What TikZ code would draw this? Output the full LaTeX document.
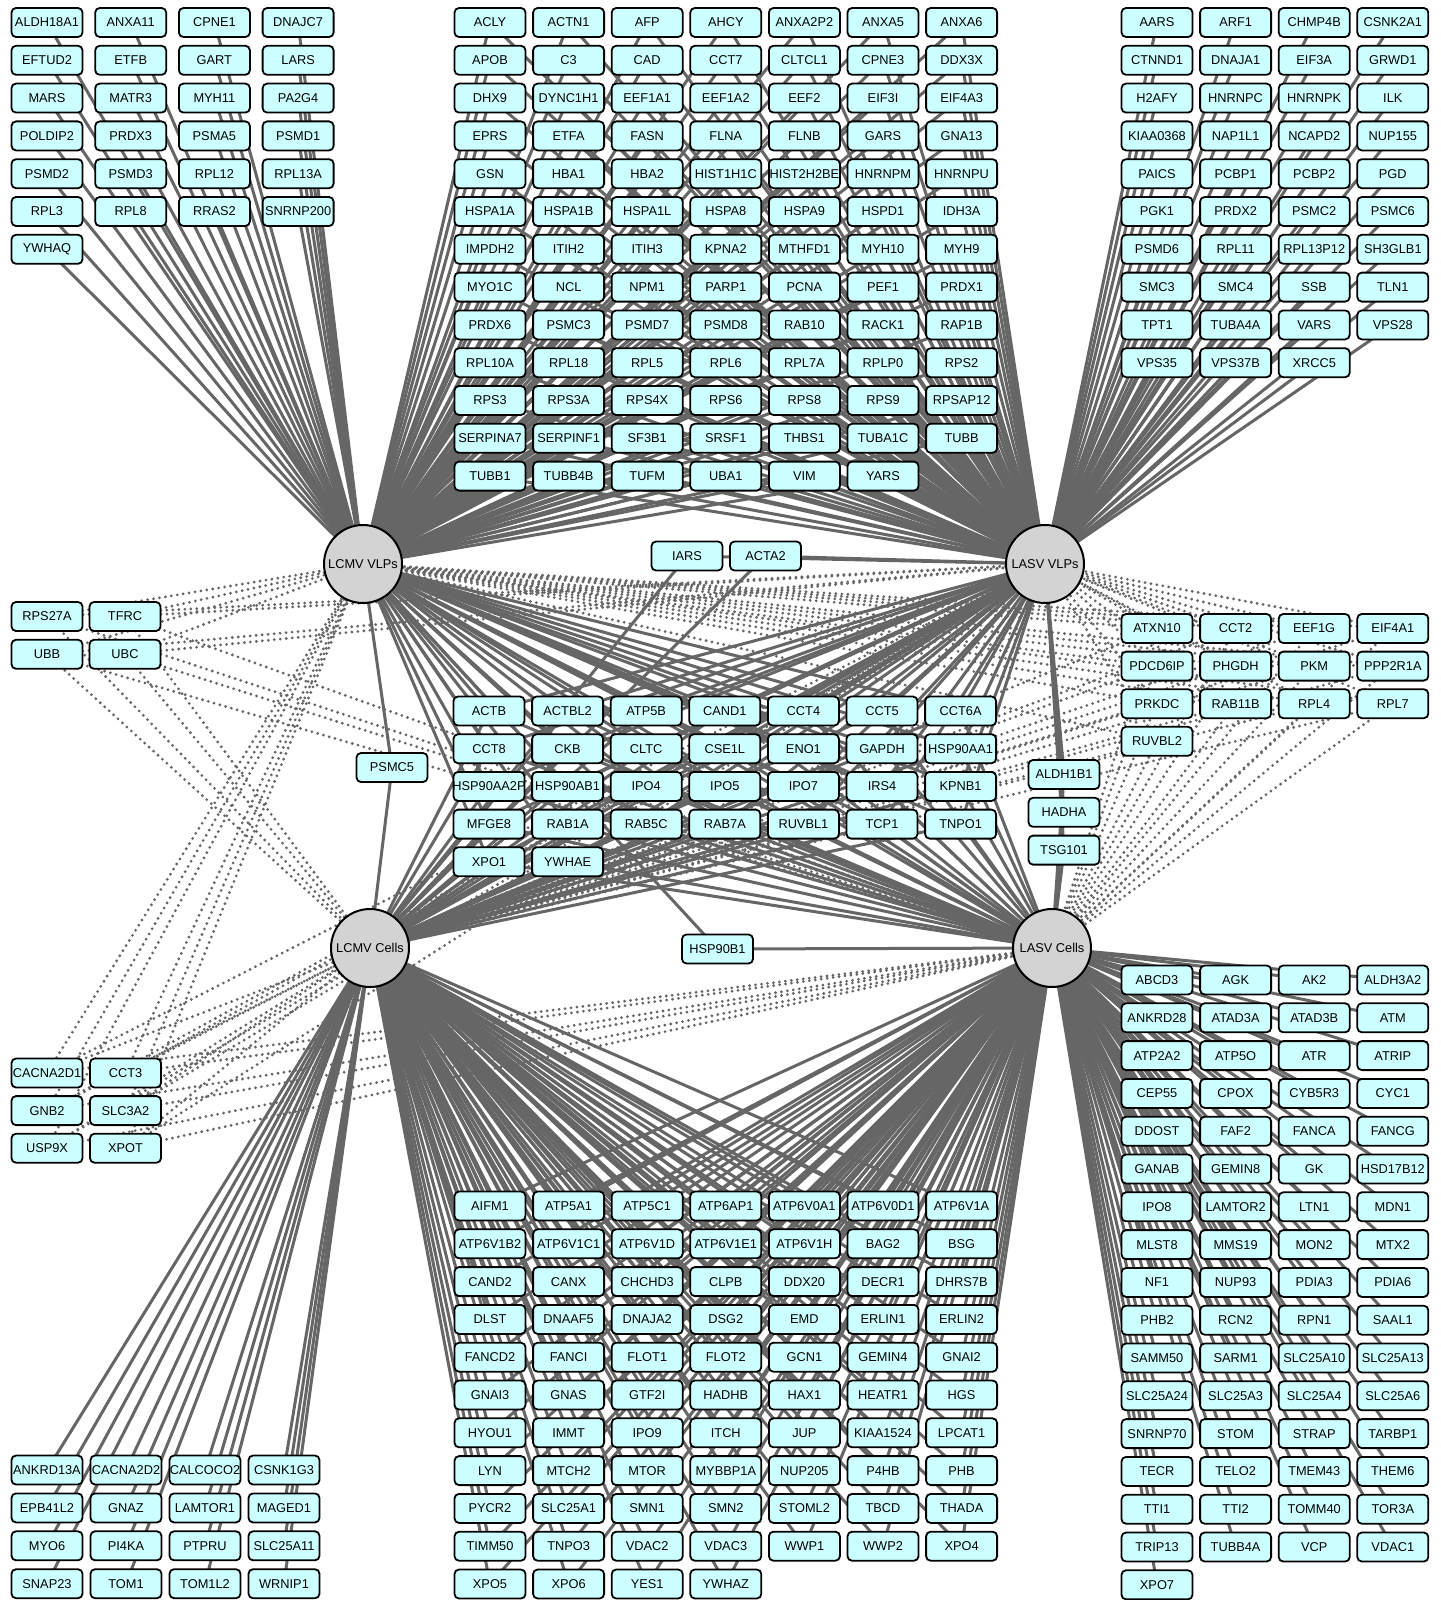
\documentclass[tikz,border=0pt]{standalone}
\usepackage{fontspec}
\setmainfont{Liberation Sans}
\pgfdeclarelayer{background}
\pgfsetlayers{background,main}
\definecolor{genefill}{RGB}{204,255,255}
\definecolor{hubfill}{RGB}{211,211,211}
\definecolor{edgegray}{RGB}{102,102,102}
\tikzset{
  gene/.style={draw=black, line width=1.8pt, fill=genefill, rounded corners=4.5pt,
    minimum width=71pt, minimum height=29pt, inner xsep=-4pt, inner ysep=0pt,
    font=\fontsize{12.8}{14}\selectfont},
  hub/.style={circle, draw=black, line width=2pt, fill=hubfill, minimum size=78pt,
    inner sep=0pt, font=\fontsize{12.8}{14}\selectfont},
  soliden/.style={draw=edgegray, line width=3pt},
  dotten/.style={draw=edgegray, line width=3.1pt, line cap=round, dash pattern=on 0pt off 6pt},
}
\newcommand\genegrid[6]{%
  \edef\mygenelist{#6}%
  \foreach \t [count=\i from 0] in \mygenelist {%
    \pgfmathtruncatemacro\mycol{mod(\i,#5)}%
    \pgfmathtruncatemacro\myrow{div(\i,#5)}%
    \node[gene] (n-\t) at ({#1+\mycol*#2},{#3+\myrow*#4}) {\t};
  }%
}
\newcommand\geneedges[3]{%
  \edef\mygenelist{#1}%
  \foreach \t in \mygenelist {\foreach \h in {#2} {\draw[#3] (n-\t.center) -- (\h.center);}}%
}
\def\TL{ALDH18A1,ANXA11,CPNE1,DNAJC7,EFTUD2,ETFB,GART,LARS,MARS,MATR3,MYH11,PA2G4,POLDIP2,PRDX3,PSMA5,PSMD1,PSMD2,PSMD3,RPL12,RPL13A,RPL3,RPL8,RRAS2,SNRNP200,YWHAQ}
\def\TM{ACLY,ACTN1,AFP,AHCY,ANXA2P2,ANXA5,ANXA6,APOB,C3,CAD,CCT7,CLTCL1,CPNE3,DDX3X,DHX9,DYNC1H1,EEF1A1,EEF1A2,EEF2,EIF3I,EIF4A3,EPRS,ETFA,FASN,FLNA,FLNB,GARS,GNA13,GSN,HBA1,HBA2,HIST1H1C,HIST2H2BE,HNRNPM,HNRNPU,HSPA1A,HSPA1B,HSPA1L,HSPA8,HSPA9,HSPD1,IDH3A,IMPDH2,ITIH2,ITIH3,KPNA2,MTHFD1,MYH10,MYH9,MYO1C,NCL,NPM1,PARP1,PCNA,PEF1,PRDX1,PRDX6,PSMC3,PSMD7,PSMD8,RAB10,RACK1,RAP1B,RPL10A,RPL18,RPL5,RPL6,RPL7A,RPLP0,RPS2,RPS3,RPS3A,RPS4X,RPS6,RPS8,RPS9,RPSAP12,SERPINA7,SERPINF1,SF3B1,SRSF1,THBS1,TUBA1C,TUBB,TUBB1,TUBB4B,TUFM,UBA1,VIM,YARS}
\def\TR{AARS,ARF1,CHMP4B,CSNK2A1,CTNND1,DNAJA1,EIF3A,GRWD1,H2AFY,HNRNPC,HNRNPK,ILK,KIAA0368,NAP1L1,NCAPD2,NUP155,PAICS,PCBP1,PCBP2,PGD,PGK1,PRDX2,PSMC2,PSMC6,PSMD6,RPL11,RPL13P12,SH3GLB1,SMC3,SMC4,SSB,TLN1,TPT1,TUBA4A,VARS,VPS28,VPS35,VPS37B,XRCC5}
\def\CM{ACTB,ACTBL2,ATP5B,CAND1,CCT4,CCT5,CCT6A,CCT8,CKB,CLTC,CSE1L,ENO1,GAPDH,HSP90AA1,HSP90AA2P,HSP90AB1,IPO4,IPO5,IPO7,IRS4,KPNB1,MFGE8,RAB1A,RAB5C,RAB7A,RUVBL1,TCP1,TNPO1,XPO1,YWHAE}
\def\BL{ANKRD13A,CACNA2D2,CALCOCO2,CSNK1G3,EPB41L2,GNAZ,LAMTOR1,MAGED1,MYO6,PI4KA,PTPRU,SLC25A11,SNAP23,TOM1,TOM1L2,WRNIP1}
\def\BM{AIFM1,ATP5A1,ATP5C1,ATP6AP1,ATP6V0A1,ATP6V0D1,ATP6V1A,ATP6V1B2,ATP6V1C1,ATP6V1D,ATP6V1E1,ATP6V1H,BAG2,BSG,CAND2,CANX,CHCHD3,CLPB,DDX20,DECR1,DHRS7B,DLST,DNAAF5,DNAJA2,DSG2,EMD,ERLIN1,ERLIN2,FANCD2,FANCI,FLOT1,FLOT2,GCN1,GEMIN4,GNAI2,GNAI3,GNAS,GTF2I,HADHB,HAX1,HEATR1,HGS,HYOU1,IMMT,IPO9,ITCH,JUP,KIAA1524,LPCAT1,LYN,MTCH2,MTOR,MYBBP1A,NUP205,P4HB,PHB,PYCR2,SLC25A1,SMN1,SMN2,STOML2,TBCD,THADA,TIMM50,TNPO3,VDAC2,VDAC3,WWP1,WWP2,XPO4,XPO5,XPO6,YES1,YWHAZ}
\def\BR{ABCD3,AGK,AK2,ALDH3A2,ANKRD28,ATAD3A,ATAD3B,ATM,ATP2A2,ATP5O,ATR,ATRIP,CEP55,CPOX,CYB5R3,CYC1,DDOST,FAF2,FANCA,FANCG,GANAB,GEMIN8,GK,HSD17B12,IPO8,LAMTOR2,LTN1,MDN1,MLST8,MMS19,MON2,MTX2,NF1,NUP93,PDIA3,PDIA6,PHB2,RCN2,RPN1,SAAL1,SAMM50,SARM1,SLC25A10,SLC25A13,SLC25A24,SLC25A3,SLC25A4,SLC25A6,SNRNP70,STOM,STRAP,TARBP1,TECR,TELO2,TMEM43,THEM6,TTI1,TTI2,TOMM40,TOR3A,TRIP13,TUBB4A,VCP,VDAC1,XPO7}
\def\DL{RPS27A,TFRC,UBB,UBC}
\def\DR{ATXN10,CCT2,EEF1G,EIF4A1,PDCD6IP,PHGDH,PKM,PPP2R1A,PRKDC,RAB11B,RPL4,RPL7,RUVBL2}
\def\DB{CACNA2D1,CCT3,GNB2,SLC3A2,USP9X,XPOT}
\begin{document}
\begin{tikzpicture}[x=1pt,y=-1pt]
\useasboundingbox (0,0) rectangle (1440,1600);
% hubs
\node[hub] (lcmvV) at (363,564) {LCMV VLPs};
\node[hub] (lasvV) at (1045,564) {LASV VLPs};
\node[hub] (lcmvC) at (370,948) {LCMV Cells};
\node[hub] (lasvC) at (1052,948) {LASV Cells};
% protein nodes
\genegrid{47}{83.7}{22.5}{37.8}{4}{\TL}
\genegrid{490}{78.6}{22.5}{37.8}{7}{\TM}
\genegrid{1157}{78.6}{22.5}{37.8}{4}{\TR}
\genegrid{489}{78.6}{711}{37.7}{7}{\CM}
\genegrid{687}{78.5}{556}{37.8}{2}{IARS,ACTA2}
\genegrid{392}{78.5}{767.5}{37.8}{1}{PSMC5}
\genegrid{1064}{78.5}{774.5}{37.8}{1}{ALDH1B1,HADHA,TSG101}
\genegrid{717.5}{78.5}{949}{37.8}{1}{HSP90B1}
\genegrid{47}{79}{1470}{37.9}{4}{\BL}
\genegrid{490}{78.6}{1206}{37.8}{7}{\BM}
\genegrid{1157}{78.6}{980}{37.8}{4}{\BR}
\genegrid{47}{78}{616.5}{37.8}{2}{\DL}
\genegrid{1157}{78.6}{628.5}{37.6}{4}{\DR}
\genegrid{47}{78.5}{1073}{37.6}{2}{\DB}
% connectors
\begin{pgfonlayer}{background}
\fill[white] (0,0) rectangle (1440,1600);
\geneedges{\TL}{lcmvV}{soliden}
\geneedges{\TM}{lcmvV,lasvV}{soliden}
\geneedges{\TR}{lasvV}{soliden}
\geneedges{\CM}{lcmvV,lasvV,lcmvC,lasvC}{soliden}
\geneedges{IARS,ACTA2}{lasvV,lcmvC}{soliden}
\geneedges{PSMC5}{lcmvV,lcmvC}{soliden}
\geneedges{ALDH1B1,HADHA,TSG101}{lasvV,lasvC}{soliden}
\geneedges{HSP90B1}{lcmvV,lasvC}{soliden}
\geneedges{\BL}{lcmvC}{soliden}
\geneedges{\BM}{lcmvC,lasvC}{soliden}
\geneedges{\BR}{lasvC}{soliden}
\geneedges{\DL}{lcmvV,lasvV,lcmvC,lasvC}{dotten}
\geneedges{\DR}{lcmvV,lasvV,lcmvC,lasvC}{dotten}
\geneedges{\DB}{lcmvV,lasvV,lcmvC,lasvC}{dotten}
\end{pgfonlayer}
\end{tikzpicture}
\end{document}
